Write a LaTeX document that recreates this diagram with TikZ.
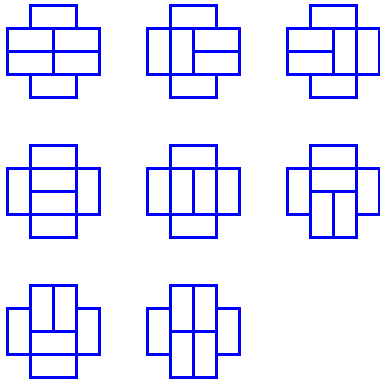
\documentclass[tikz,border=0pt]{standalone}
\begin{document}
\begin{tikzpicture}[x=0.03cm,y=-0.03cm,
    tile/.style={draw=blue,line width=2.2pt}]
    \useasboundingbox (0,0) rectangle (380,378);
    % row 1
    \begin{scope}[shift={(7.3,5.7)},scale=23]
    \draw[tile] (1,0) rectangle (3,1);
    \draw[tile] (0,1) rectangle (2,2);
    \draw[tile] (2,1) rectangle (4,2);
    \draw[tile] (0,2) rectangle (2,3);
    \draw[tile] (2,2) rectangle (4,3);
    \draw[tile] (1,3) rectangle (3,4);
    \end{scope}
    \begin{scope}[shift={(147.3,5.7)},scale=23]
    \draw[tile] (1,0) rectangle (3,1);
    \draw[tile] (0,1) rectangle (1,3);
    \draw[tile] (1,1) rectangle (2,3);
    \draw[tile] (2,1) rectangle (4,2);
    \draw[tile] (2,2) rectangle (4,3);
    \draw[tile] (1,3) rectangle (3,4);
    \end{scope}
    \begin{scope}[shift={(287.3,5.7)},scale=23]
    \draw[tile] (1,0) rectangle (3,1);
    \draw[tile] (0,1) rectangle (2,2);
    \draw[tile] (0,2) rectangle (2,3);
    \draw[tile] (2,1) rectangle (3,3);
    \draw[tile] (3,1) rectangle (4,3);
    \draw[tile] (1,3) rectangle (3,4);
    \end{scope}
    % row 2
    \begin{scope}[shift={(7.3,145.5)},scale=23]
    \draw[tile] (1,0) rectangle (3,1);
    \draw[tile] (0,1) rectangle (1,3);
    \draw[tile] (1,1) rectangle (3,2);
    \draw[tile] (1,2) rectangle (3,3);
    \draw[tile] (3,1) rectangle (4,3);
    \draw[tile] (1,3) rectangle (3,4);
    \end{scope}
    \begin{scope}[shift={(147.3,145.5)},scale=23]
    \draw[tile] (1,0) rectangle (3,1);
    \draw[tile] (0,1) rectangle (1,3);
    \draw[tile] (1,1) rectangle (2,3);
    \draw[tile] (2,1) rectangle (3,3);
    \draw[tile] (3,1) rectangle (4,3);
    \draw[tile] (1,3) rectangle (3,4);
    \end{scope}
    \begin{scope}[shift={(287.3,145.5)},scale=23]
    \draw[tile] (1,0) rectangle (3,1);
    \draw[tile] (0,1) rectangle (1,3);
    \draw[tile] (1,1) rectangle (3,2);
    \draw[tile] (3,1) rectangle (4,3);
    \draw[tile] (1,2) rectangle (2,4);
    \draw[tile] (2,2) rectangle (3,4);
    \end{scope}
    % row 3
    \begin{scope}[shift={(7.3,285.3)},scale=23]
    \draw[tile] (1,0) rectangle (2,2);
    \draw[tile] (2,0) rectangle (3,2);
    \draw[tile] (0,1) rectangle (1,3);
    \draw[tile] (3,1) rectangle (4,3);
    \draw[tile] (1,2) rectangle (3,3);
    \draw[tile] (1,3) rectangle (3,4);
    \end{scope}
    \begin{scope}[shift={(147.3,285.3)},scale=23]
    \draw[tile] (1,0) rectangle (2,2);
    \draw[tile] (2,0) rectangle (3,2);
    \draw[tile] (0,1) rectangle (1,3);
    \draw[tile] (3,1) rectangle (4,3);
    \draw[tile] (1,2) rectangle (2,4);
    \draw[tile] (2,2) rectangle (3,4);
    \end{scope}
\end{tikzpicture}
\end{document}
